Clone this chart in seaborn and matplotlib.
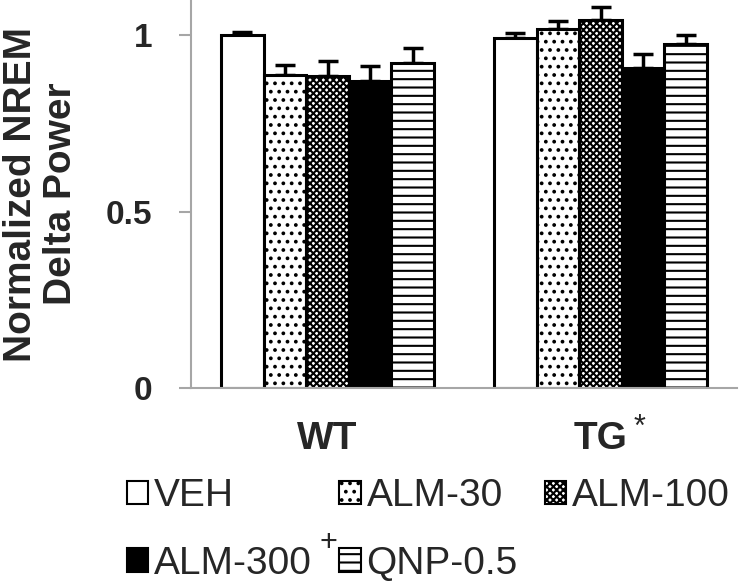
import pandas as pd
import seaborn as sns
import matplotlib.pyplot as plt
import matplotlib.patches as mpatches
import numpy as np

# data
groups = ['WT', 'TG']
treatments = ['VEH', 'ALM-30', 'ALM-100', 'ALM-300', 'QNP-0.5']
wt_mean = [1.000, 0.887, 0.884, 0.870, 0.921]
wt_sem = [0.008, 0.028, 0.042, 0.042, 0.042]
tg_mean = [0.992, 1.017, 1.042, 0.907, 0.975]
tg_sem = [0.014, 0.023, 0.037, 0.039, 0.025]

# fill / hatch per treatment
face = ['white', 'white', 'white', 'black', 'white']
hatches = ['', '..', 'xxxxx', '', '--']

df = pd.DataFrame({
    'group': np.repeat(groups, len(treatments)),
    'treatment': treatments * len(groups),
    'mean': wt_mean + tg_mean,
    'sem': wt_sem + tg_sem,
})

sns.set_theme(style='white')
plt.rcParams['font.family'] = ['Liberation Sans', 'DejaVu Sans']
plt.rcParams['hatch.linewidth'] = 1.5
plt.rcParams['hatch.color'] = 'black'

fig = plt.figure(figsize=(7.4, 5.85), dpi=100)
ax = fig.add_axes([191/740, 1-388/585, 546/740, 388/585])

sns.barplot(data=df, x='group', y='mean', hue='treatment', order=groups,
            hue_order=treatments, palette=dict(zip(treatments, face)),
            errorbar=None, width=0.78, edgecolor='black', linewidth=2.2,
            saturation=1, legend=False, ax=ax)

gray = '#a6a6a6'
bar_containers = list(ax.containers)
for i, cont in enumerate(bar_containers):
    sub = df[df['treatment'] == treatments[i]].set_index('group').loc[groups]
    xs = []
    for bar in cont:
        bar.set_hatch(hatches[i])
        bar.set_facecolor(face[i])
        bar.set_zorder(2)
        xs.append(bar.get_x() + bar.get_width()/2)
    ax.errorbar(xs, sub['mean'], yerr=[np.zeros(len(xs)), sub['sem']], fmt='none',
                ecolor='black', elinewidth=2.5, capsize=7.2, capthick=2.5, zorder=1)

ax.set_xlim(-0.5, 1.5)
ax.set_ylim(0, 1.1)
ax.set_yticks([0, 0.5, 1])
ax.set_yticklabels(['0', '0.5', '1'], fontsize=24, fontweight='bold')
ax.set_xticks([0, 1])
ax.set_xticklabels(groups, fontsize=28, fontweight='bold')
ax.set_xticks([-0.5, 0.5, 1.5], minor=True)
ax.tick_params(axis='x', which='major', length=0, pad=24)
ax.tick_params(axis='x', which='minor', length=9, width=1.5, color=gray, direction='out')
ax.tick_params(axis='y', length=9, width=1.5, color=gray, direction='out', pad=19, left=True)

for s in ['top', 'right']:
    ax.spines[s].set_visible(False)
for s in ['left', 'bottom']:
    ax.spines[s].set_color(gray)
    ax.spines[s].set_linewidth(1.5)

ax.set_xlabel('')
ax.set_ylabel('Normalized NREM\nDelta Power', fontsize=28, fontweight='bold', linespacing=1.15)
ax.yaxis.set_label_coords(-0.205, 0.5)

# legend, row-major order like the original
handles = [mpatches.Patch(facecolor=face[i], edgecolor='black', hatch=hatches[i], linewidth=1.5)
           for i in range(len(treatments))]
order = [0, 3, 1, 4, 2]
fig.legend([handles[i] for i in order], [treatments[i] for i in order], ncol=3,
           loc='upper left', bbox_to_anchor=(127/740, 1-478/585), frameon=False,
           fontsize=28, handlelength=0.55, handleheight=0.55, handletextpad=0.15,
           columnspacing=0.7, labelspacing=0.82, borderpad=0, borderaxespad=0)

fig.text(328/740, 1-543/585, '+', fontsize=22, ha='center', va='center')
fig.text(640/740, 1-428/585, '*', fontsize=22, ha='center', va='center')

plt.savefig('out.png', dpi=100)
